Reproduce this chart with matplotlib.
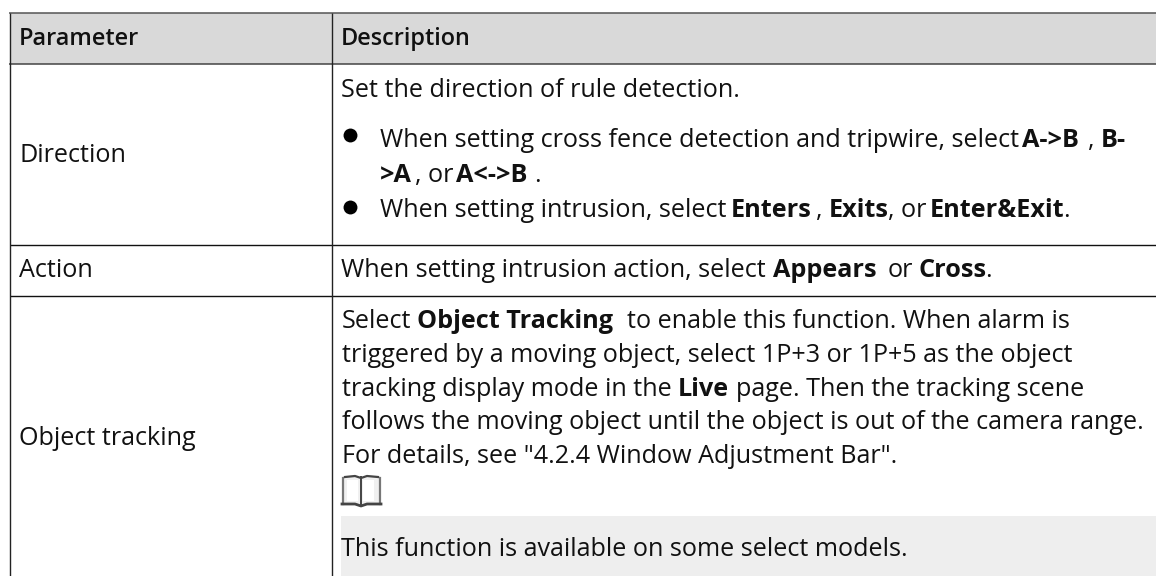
"""
Parameter table from a camera manual page, drawn as real text on pixel axes.
"""
import matplotlib.pyplot as plt
from matplotlib.patches import Rectangle

FONT = "Open Sans"
SIZE = 18.1
BOLD_SIZE = 18.2
HEAD_SIZE = 16.9

col_labels = ["Parameter", "Description"]
row_labels = ["Direction", "Action", "Object tracking"]

# (x, baseline, text, bold)
desc_runs = [
    (341, 97, "Set the direction of rule detection.", False),
    (380, 147, "When setting cross fence detection and tripwire, select", False),
    (1022, 147, "A->B", True),
    (1088, 147, ",", False),
    (1101, 147, "B-", True),
    (380, 182, ">A", True),
    (415, 182, ", or", False),
    (456, 182, "A<->B", True),
    (534, 182, ".", False),
    (380, 217, "When setting intrusion, select", False),
    (731, 217, "Enters", True),
    (816, 217, ",", False),
    (829, 217, "Exits", True),
    (888, 217, ", or", False),
    (930, 217, "Enter&Exit", True),
    (1063, 217, ".", False),
    (341, 277, "When setting intrusion action, select", False),
    (773, 277, "Appears", True),
    (888, 277, "or", False),
    (919, 277, "Cross", True),
    (985, 277, ".", False),
    (342, 328, "Select", False),
    (417, 328, "Object Tracking", True),
    (627, 328, "to enable this function. When alarm is", False),
    (342, 362, "triggered by a moving object, select 1P+3 or 1P+5 as the object", False),
    (342, 396, "tracking display mode in the", False),
    (678, 396, "Live", True),
    (736, 396, "page. Then the tracking scene", False),
    (342, 429, "follows the moving object until the object is out of the camera range.", False),
    (342, 463, 'For details, see "4.2.4 Window Adjustment Bar".', False),
    (341, 556, "This function is available on some select models.", False),
]
bullet_rows = [135, 207]

fig = plt.figure(figsize=(11.56, 5.76), dpi=100)
ax = fig.add_axes([0, 0, 1, 1])
ax.set_xlim(0, 1156)
ax.set_ylim(576, 0)
ax.axis("off")

# fills
ax.add_patch(Rectangle((10, 13), 1146, 51, color="#d9d9d9", lw=0))
ax.add_patch(Rectangle((341, 516), 815, 60, color="#eeeeee", lw=0))

# rules
ax.hlines(13, 9, 1156, color="#555555", lw=1.1)
ax.hlines(64, 9, 1156, color="#444444", lw=1.1)
ax.hlines([245, 296], 10, 1156, color="#111111", lw=1.0)
ax.vlines([10, 332], 13, 576, color="#222222", lw=1.0)

txt = dict(color="#111111", family=FONT, fontsize=SIZE, va="baseline")
bold_txt = dict(color="#111111", family=FONT, fontsize=BOLD_SIZE, va="baseline", fontweight="bold")
head_txt = dict(color="#111111", family=FONT, fontsize=HEAD_SIZE, va="baseline", fontweight="semibold")
ax.text(19, 45, col_labels[0], **head_txt)
ax.text(341, 45, col_labels[1], **head_txt)
for y, label in zip([162, 277, 445], row_labels):
    ax.text(19, y, label, **txt)
for x, y, s, bold in desc_runs:
    ax.text(x, y, s, **(bold_txt if bold else txt))

ax.plot([350] * len(bullet_rows), bullet_rows, "o", color="black", ms=10, mew=0)

# open book icon
book = "#444444"
ax.add_patch(Rectangle((343, 477), 37, 27, color="#f0f0f0", lw=0))
ax.add_patch(Rectangle((347, 480), 11, 21, color="white", lw=0))
ax.add_patch(Rectangle((363, 480), 11, 21, color="white", lw=0))
ax.plot([343, 343], [478, 504], color="#777777", lw=1.6)
ax.plot([380, 380], [478, 504], color="#777777", lw=1.6)
ax.plot([361, 361], [477, 504], color=book, lw=1.4)
ax.plot([345, 355, 361, 367, 378], [477, 476, 478, 476, 477], color=book, lw=1.6)
ax.plot([342, 355, 361, 367, 381], [504, 504, 506, 504, 504], color=book, lw=2.0)

fig.savefig("out.png", dpi=100)
